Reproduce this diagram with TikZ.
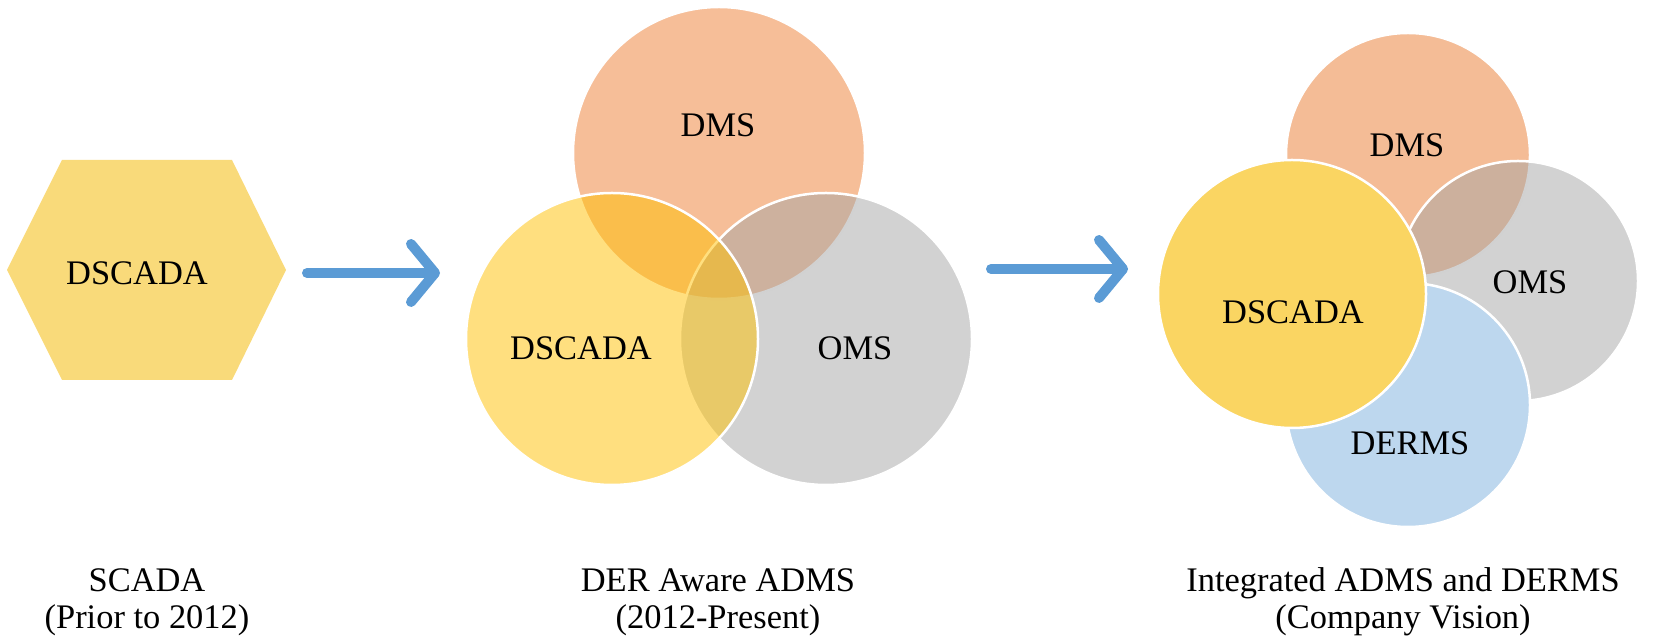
\documentclass[tikz,border=0pt]{standalone}
\usepackage{fontspec}
\setmainfont{Liberation Serif}
\usetikzlibrary{arrows.meta}
\definecolor{dmsorange}{RGB}{237,125,49}
\definecolor{scadagold}{RGB}{255,192,0}
\definecolor{omsgray}{RGB}{165,165,165}
\definecolor{hexyellow}{RGB}{249,218,122}
\definecolor{dscadayellow}{RGB}{250,213,98}
\definecolor{dmspeach}{RGB}{244,188,150}
\definecolor{dermsblue}{RGB}{189,215,238}
\definecolor{arrowblue}{RGB}{91,155,213}
\begin{document}
\begin{tikzpicture}[x=0.1mm, y=-0.1mm, font=\fontsize{9.8}{10.5}\selectfont,
    bubble/.style={draw=white, line width=0.25mm},
    seethru/.style={bubble, fill opacity=0.5},
    flow/.style={arrowblue, line width=1mm, line cap=round,
        -{Straight Barb[length=2.4mm, width=5.8mm, round]}},
    caption/.style={align=center}]
    \useasboundingbox (0,0) rectangle (1661,644);
    % SCADA
    \begin{scope}
        \fill[hexyellow] (7,270) -- (62,160) -- (232,160) -- (286,270) -- (232,380) -- (62,380) -- cycle;
        \node (scada) at (137,273) {DSCADA};
        \node[caption] (cap1) at (147,602) {SCADA\\(Prior to 2012)};
    \end{scope}
    \coordinate (a1s) at (307,273);
    \coordinate (a1e) at (440,273);
    \draw[flow] (a1s) -- (a1e);
    % DER aware ADMS
    \begin{scope}
        \path[seethru, fill=dmsorange] (719,153) circle [radius=14.6mm];
        \path[seethru, fill=omsgray] (826,339) circle [radius=14.6mm];
        \path[seethru, fill=scadagold] (612,339) circle [radius=14.6mm];
        \node (dms1) at (718,125) {DMS};
        \node (dscada1) at (581,348) {DSCADA};
        \node (oms1) at (855,348) {OMS};
        \node[caption] (cap2) at (718,602) {DER Aware ADMS\\(2012-Present)};
    \end{scope}
    \coordinate (a2s) at (991,269);
    \coordinate (a2e) at (1128,269);
    \draw[flow] (a2s) -- (a2e);
    % integrated ADMS and DERMS
    \begin{scope}
        \path[bubble, fill=dmspeach] (1408,155) circle [radius=12.2mm];
        \path[seethru, fill=omsgray] (1518,281) circle [radius=12mm];
        \path[bubble, fill=dermsblue] (1408,405) circle [radius=12.2mm];
        \path[bubble, fill=dscadayellow] (1292,294) circle [radius=13.4mm];
        \node (dms2) at (1407,145) {DMS};
        \node (oms2) at (1530,282) {OMS};
        \node (derms2) at (1410,443) {DERMS};
        \node (dscada2) at (1293,312) {DSCADA};
        \node[caption] (cap3) at (1403,602) {Integrated ADMS and DERMS\\(Company Vision)};
    \end{scope}
\end{tikzpicture}
\end{document}
